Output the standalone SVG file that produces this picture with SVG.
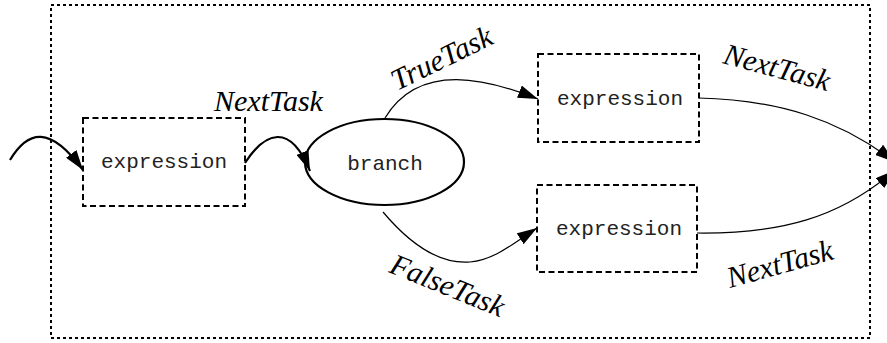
<svg xmlns="http://www.w3.org/2000/svg" width="887" height="343" viewBox="0 0 887 343">
<style>
.frame{fill:none;stroke:#000;stroke-width:2;stroke-dasharray:3 3}
.box{fill:#fff;stroke:#000;stroke-width:2;stroke-dasharray:6 3.5}
.oval{fill:#fff;stroke:#000;stroke-width:2.2}
.code{font-family:"Liberation Mono","DejaVu Sans Mono",monospace;font-size:21px;fill:#222;text-anchor:middle}
.lbl{font-family:"Liberation Serif","DejaVu Serif",serif;font-style:italic;font-size:30px;fill:#000}
.thick{fill:none;stroke:#000;stroke-width:2.2;marker-end:url(#ah)}
.thin{fill:none;stroke:#000;stroke-width:1.2;marker-end:url(#ah)}
</style>
<defs>
<marker id="ah" markerUnits="userSpaceOnUse" markerWidth="21" markerHeight="13" refX="20" refY="6.5" orient="auto">
<path d="M0,0 L20,6.5 L0,13 z" fill="#000"/>
</marker>
</defs>
<rect class="frame" x="51" y="5" width="819" height="333"/>
<g id="expr1">
<rect class="box" x="83" y="118" width="162" height="88"/>
<text class="code" x="164" y="168">expression</text>
</g>
<g id="branch">
<ellipse class="oval" cx="384.5" cy="162" rx="79.5" ry="43"/>
<text class="code" x="385" y="170">branch</text>
</g>
<g id="exprTrue">
<rect class="box" x="538" y="54" width="161" height="88"/>
<text class="code" x="620" y="105">expression</text>
</g>
<g id="exprFalse">
<rect class="box" x="537" y="185" width="160" height="87"/>
<text class="code" x="619" y="235">expression</text>
</g>
<g id="connectors">
<path class="thick" d="M10,160 C28,130 50,125 83,170"/>
<path class="thick" d="M245,163 C265,132 290,122 310,171"/>
<path class="thin" d="M385,118 C420,60 490,80 538,99"/>
<path class="thin" d="M383,212 C415,250 445,264 470,262 C495,260 515,242 537,228"/>
<path class="thin" d="M699,98 C780,100 840,120 895,162"/>
<path class="thin" d="M697,233 C780,234 840,218 895,170"/>
</g>
<g id="labels">
<text class="lbl" x="214" y="111">NextTask</text>
<text class="lbl" transform="translate(397,91) rotate(-26)">TrueTask</text>
<text class="lbl" transform="translate(388,272) rotate(22)">FalseTask</text>
<text class="lbl" transform="translate(722,63) rotate(15)">NextTask</text>
<text class="lbl" transform="translate(730,288) rotate(-15.5)">NextTask</text>
</g>
</svg>
